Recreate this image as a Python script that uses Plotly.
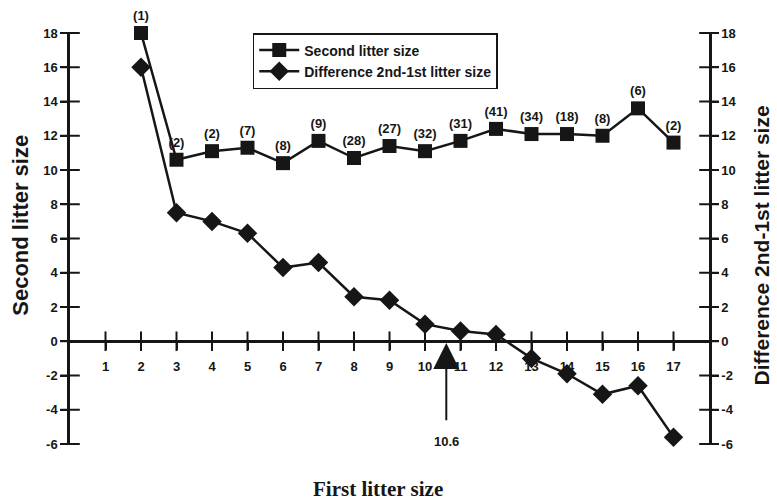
import plotly.graph_objects as go

# ---- data ----
first_litter = list(range(2, 18))
second_litter = [18.0, 10.6, 11.1, 11.3, 10.4, 11.7, 10.7, 11.4, 11.1, 11.7, 12.4, 12.1, 12.1, 12.0, 13.6, 11.6]
difference = [16.0, 7.5, 7.0, 6.3, 4.3, 4.6, 2.6, 2.4, 1.0, 0.6, 0.4, -1.0, -1.9, -3.1, -2.6, -5.6]
n_labels = ["(1)", "(2)", "(2)", "(7)", "(8)", "(9)", "(28)", "(27)", "(32)", "(31)", "(41)", "(34)", "(18)", "(8)", "(6)", "(2)"]
x_ticks = list(range(1, 18))
y_ticks = list(range(-6, 19, 2))
y_tick_text = [str(v) for v in y_ticks]
mean_first = 10.6

INK = "#161616"
SANS = "Liberation Sans, Arial, sans-serif"
SERIF = "Liberation Serif, Times New Roman, serif"
XR = [0, 18]
YR = [-6, 18]
xpos = (0 - YR[0]) / (YR[1] - YR[0])

fig = go.Figure()

# crossing tick marks on the three axis lines
tick_style = dict(color=INK, size=14, line=dict(color=INK, width=2))
fig.add_trace(go.Scatter(x=x_ticks, y=[0] * len(x_ticks), mode="markers",
                         marker=dict(symbol="line-ns", **tick_style),
                         showlegend=False, hoverinfo="skip", cliponaxis=False))
fig.add_trace(go.Scatter(x=[XR[0]] * len(y_ticks), y=y_ticks, mode="markers",
                         marker=dict(symbol="line-ew", **tick_style),
                         showlegend=False, hoverinfo="skip", cliponaxis=False))
fig.add_trace(go.Scatter(x=[XR[1]] * len(y_ticks), y=y_ticks, mode="markers",
                         marker=dict(symbol="line-ew", **tick_style),
                         showlegend=False, hoverinfo="skip", cliponaxis=False))

fig.add_trace(go.Scatter(
    x=first_litter, y=second_litter, name="Second litter size",
    mode="lines+markers+text", text=n_labels, textposition="top center",
    textfont=dict(family=SANS, size=13, color=INK, weight="bold"),
    line=dict(color=INK, width=2.5),
    marker=dict(symbol="square", size=14, color=INK),
    xaxis="x", yaxis="y", cliponaxis=False,
))
fig.add_trace(go.Scatter(
    x=first_litter, y=difference, name="Difference 2nd-1st litter size",
    mode="lines+markers",
    line=dict(color=INK, width=2.5),
    marker=dict(symbol="diamond", size=15, color=INK),
    xaxis="x", yaxis="y2", cliponaxis=False,
))

tickfont = dict(family=SANS, size=13, color=INK, weight="bold")
common_y = dict(range=YR, tickvals=y_ticks, ticktext=y_tick_text, showgrid=False,
                zeroline=False, tickfont=tickfont, tickwidth=2, ticklen=7, tickcolor=INK)

fig.update_layout(
    width=777, height=503,
    margin=dict(l=70, r=68, t=33, b=59),
    paper_bgcolor="white", plot_bgcolor="white",
    xaxis=dict(range=XR, tickvals=x_ticks, anchor="free", position=xpos,
               showline=True, linewidth=2.5, linecolor=INK, ticks="outside",
               ticklen=7, tickwidth=2, tickcolor=INK, tickfont=tickfont,
               showgrid=False, zeroline=False, ticklabelstandoff=5),
    yaxis=dict(**common_y, anchor="x", side="left", showline=True, linewidth=2.5,
               linecolor=INK, ticks="outside"),
    yaxis2=dict(**common_y, overlaying="y", anchor="x", side="right", showline=True,
                linewidth=2.5, linecolor=INK, ticks="outside"),
    legend=dict(x=0.286, y=1.0, xanchor="left", yanchor="top",
                bordercolor=INK, borderwidth=1.5, bgcolor="white",
                font=dict(family=SANS, size=14, color=INK, weight="bold"),
                tracegroupgap=0, itemwidth=40),
    showlegend=True,
)

# arrow marking mean first litter size
fig.add_annotation(x=mean_first, y=-0.1, xref="x", yref="y2",
                   ax=mean_first, ay=-4.7, axref="x", ayref="y2",
                   text="", showarrow=True, arrowhead=2, arrowsize=2.6,
                   arrowwidth=2, arrowcolor=INK)
fig.add_annotation(x=mean_first, y=-5.85, xref="x", yref="y2",
                   text="<b>10.6</b>", showarrow=False,
                   font=dict(family=SANS, size=13, color=INK))

# axis titles
fig.add_annotation(x=-0.077, y=0.533, xref="paper", yref="paper", xanchor="center",
                   yanchor="middle", text="<b>Second litter size</b>", textangle=-90,
                   showarrow=False, font=dict(family=SANS, size=22, color=INK))
fig.add_annotation(x=1.082, y=0.484, xref="paper", yref="paper", xanchor="center",
                   yanchor="middle", text="<b>Difference 2nd-1st litter size</b>",
                   textangle=-90, showarrow=False,
                   font=dict(family=SANS, size=21, color=INK))
fig.add_annotation(x=0.482, y=-0.11, xref="paper", yref="paper", xanchor="center",
                   yanchor="middle", text="<b>First litter size</b>", showarrow=False,
                   font=dict(family=SERIF, size=21, color=INK))

fig.write_html("out.html", config={"displayModeBar": False},
               post_script="document.body.style.margin='0px';")
